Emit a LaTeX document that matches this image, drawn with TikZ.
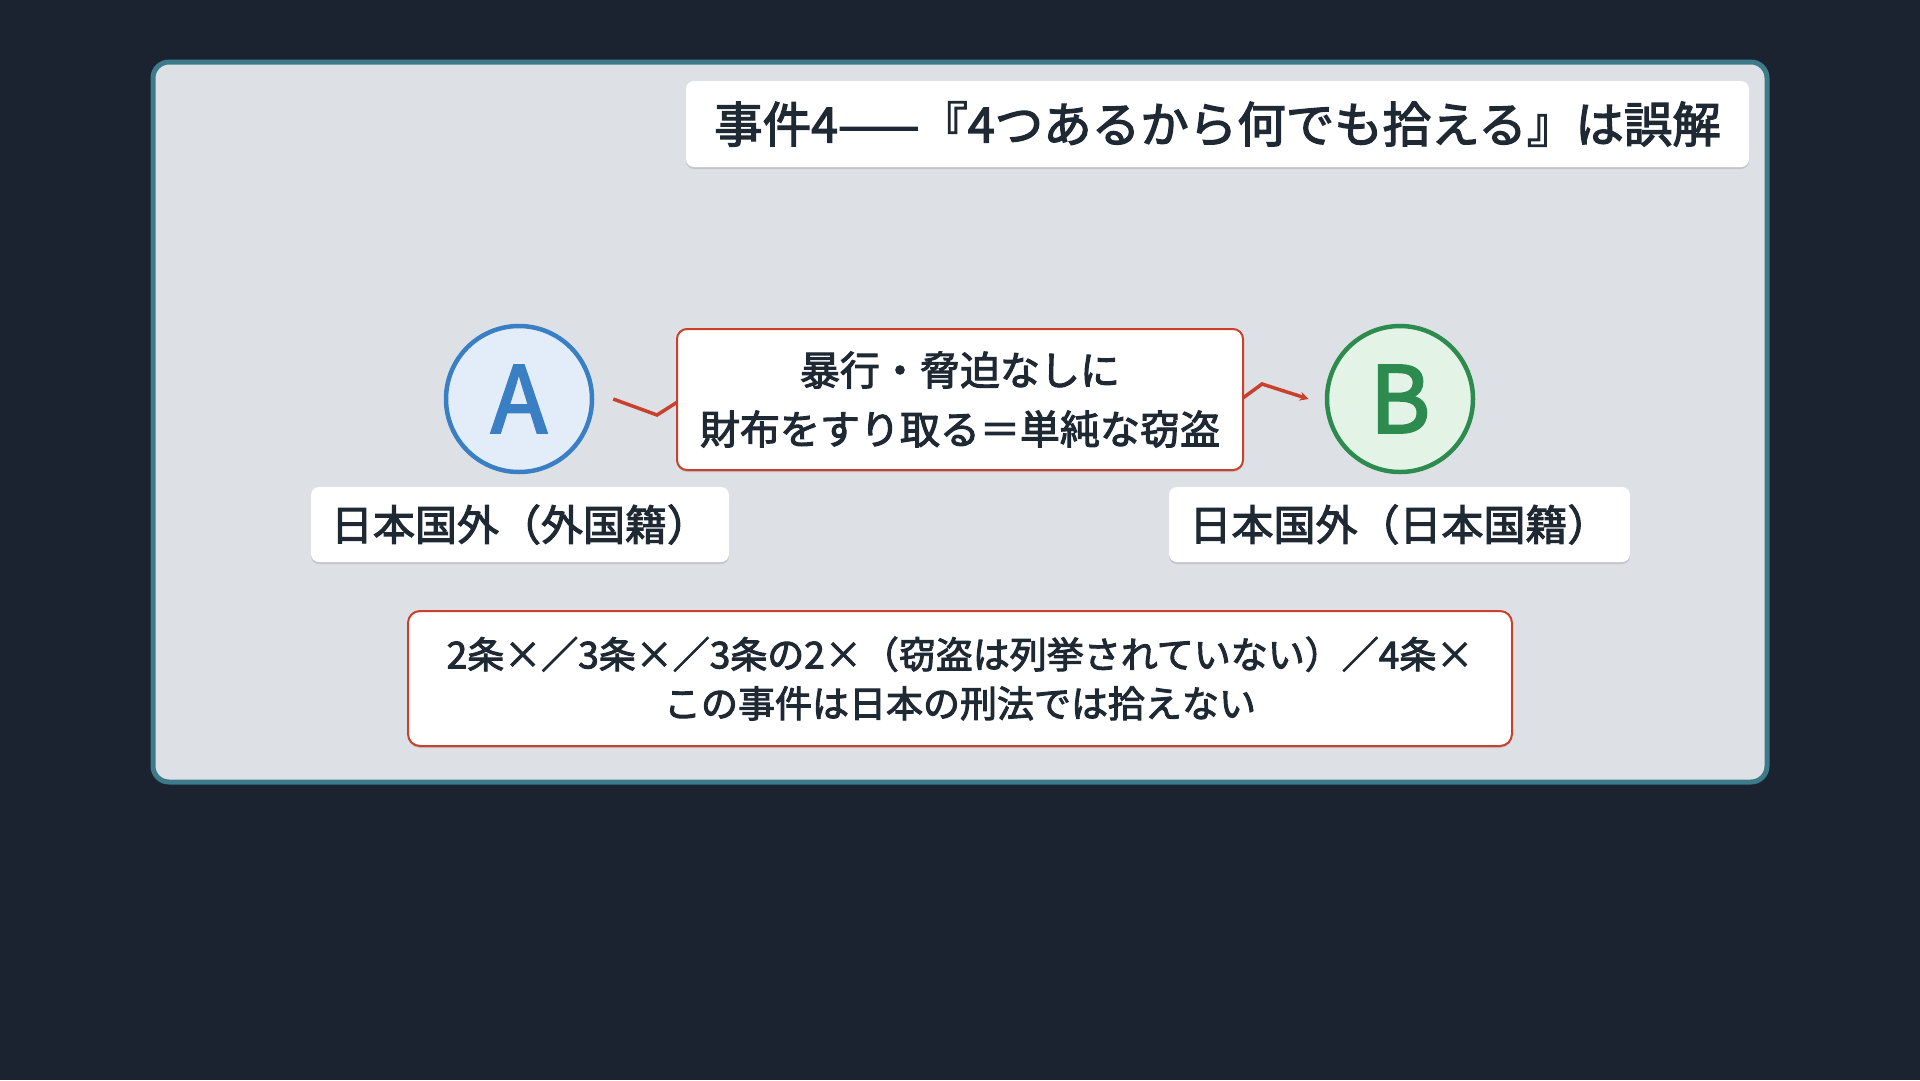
\documentclass[tikz,border=0pt]{standalone}
\usepackage{fontspec}
\setmainfont{Noto Sans CJK JP}
\newfontfamily\medfont{Noto Sans CJK JP}[FakeBold=2.6]
\usetikzlibrary{arrows.meta,shadows}
\definecolor{bgcol}{HTML}{1C2330}
\definecolor{panelfill}{HTML}{DDE1E6}
\definecolor{panelline}{HTML}{3D7A8A}
\definecolor{txt}{HTML}{1F2933}
\definecolor{redline}{HTML}{C9402C}
\definecolor{bluel}{HTML}{3A7FC4}
\definecolor{bluef}{HTML}{E3EDF9}
\definecolor{greenl}{HTML}{2E8B4F}
\definecolor{greenf}{HTML}{E3F4E7}
\tikzset{
  whitebox/.style={fill=white, rounded corners=8pt, inner sep=0pt, text=txt,
    drop shadow={shadow xshift=0pt, shadow yshift=-2pt, opacity=0.12, fill=black}},
  redbox/.style={whitebox, draw=redline, line width=2pt, rounded corners=10pt, align=center},
  person/.style={circle, line width=4.5pt, minimum size=146pt, inner sep=0pt,
    font=\fontsize{92}{92}\selectfont\medfont},
  edgeline/.style={draw=redline, line width=3.5pt, -{Stealth[length=9pt,width=9pt]}},
}
\begin{document}
\begin{tikzpicture}[x=1pt,y=-1pt]
\useasboundingbox (0,0) rectangle (1920,1080);
\fill[bgcol] (0,0) rectangle (1920,1080);
\draw[panelline, fill=panelfill, line width=5pt, rounded corners=16pt] (153,62) rectangle (1767,782);

\node[whitebox, minimum width=1063pt, minimum height=86pt,
  font=\fontsize{48.5}{54}\selectfont\medfont] (title) at (1217.5,124)
  {事件4——『4つあるから何でも拾える』は誤解};

\node[person, draw=bluel, fill=bluef, text=bluel] (A) at (519,399) {A};
\node[person, draw=greenl, fill=greenf, text=greenl] (B) at (1400,399) {B};

\node[whitebox, minimum width=418pt, minimum height=75pt,
  font=\fontsize{42}{46}\selectfont\medfont] (la) at (520,524.5) {日本国外（外国籍）};
\node[whitebox, minimum width=461pt, minimum height=75pt,
  font=\fontsize{42}{46}\selectfont\medfont] (lb) at (1399.5,524.5) {日本国外（日本国籍）};

\coordinate (e1) at (657,415);
\coordinate (e2) at (690,394);
\coordinate (e3) at (1232,406);
\coordinate (e4) at (1262,384);
\draw[edgeline] ([xshift=19pt]A.east) -- (e1) -- (e2) -- (e3) -- (e4) -- ([xshift=-16pt]B.west);

\node[redbox, minimum width=566pt, minimum height=141pt,
  font=\fontsize{40}{59}\selectfont\medfont] (mid) at (960,399.5)
  {暴行・脅迫なしに\\財布をすり取る＝単純な窃盗};

\node[redbox, minimum width=1104pt, minimum height=135pt, rounded corners=12pt,
  font=\fontsize{37}{49}\selectfont\medfont] (note) at (960,678.5)
  {2条×／3条×／3条の2×（窃盗は列挙されていない）／4条×\\この事件は日本の刑法では拾えない};
\end{tikzpicture}
\end{document}
